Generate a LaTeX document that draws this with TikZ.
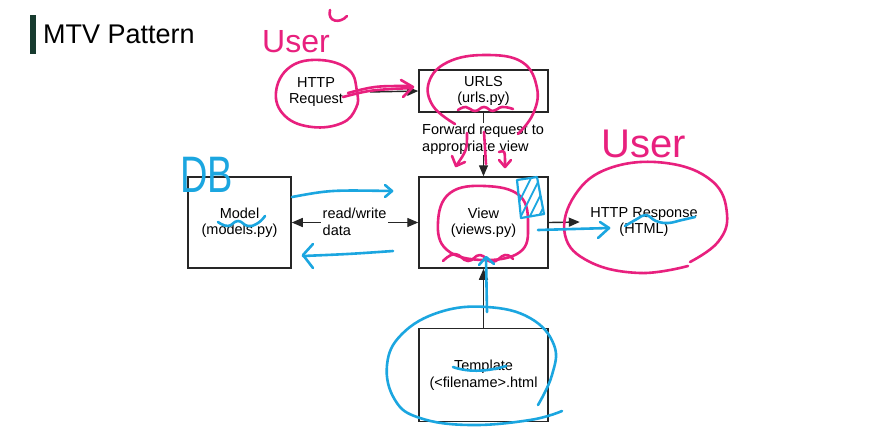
\documentclass[tikz,border=0pt]{standalone}
\usepackage{fontspec}
\setmainfont{Liberation Sans}
\usetikzlibrary{arrows.meta}
\definecolor{pk}{HTML}{E8207E}
\definecolor{bl}{HTML}{1BA6E0}
\definecolor{titlebar}{HTML}{173B2F}
\newcommand\lblfont{\fontsize{14.5}{16.5}\selectfont}
\tikzset{
  box/.style={draw=black!85, line width=1.5pt, align=center, font=\lblfont, inner sep=0pt},
  plain/.style={align=center, font=\lblfont, inner sep=0pt},
  arr/.style={draw=black!85, line width=1.4pt, -{Triangle[length=11pt,width=9pt]}},
  dblarr/.style={draw=black!85, line width=1.4pt, {Triangle[length=11pt,width=9pt]}-{Triangle[length=11pt,width=9pt]}},
  pen/.style={line width=2.6pt, line cap=round, line join=round},
  pkpen/.style={pen, draw=pk},
  blpen/.style={pen, draw=bl},
  hand/.style={inner sep=0pt}
}
\begin{document}
\begin{tikzpicture}[x=1pt,y=-1pt]
\useasboundingbox (0,0) rectangle (888,440);
\fill[white] (0,0) rectangle (888,440);
% title
\fill[titlebar] (30,15) rectangle (36,54);
\node[anchor=base west, inner sep=0pt, font=\fontsize{27}{32}\selectfont] (title) at (43,43) {MTV Pattern};
% diagram nodes
\node[plain, minimum width=108pt] (req) at (316,92) {HTTP\\Request};
\node[box, minimum width=129pt, minimum height=42pt] (urls) at (483.5,91) {URLS\\(urls.py)};
\node[box, minimum width=129pt, minimum height=91pt] (view) at (483.5,222.5) {View\\(views.py)};
\node[box, minimum width=103pt, minimum height=91pt] (model) at (239.5,222.5) {Model\\(models.py)};
\node[box, minimum width=129pt, minimum height=93pt] (tmpl) at (483.5,375) {Template\\(<filename>.html};
\node[plain, minimum width=128pt] (resp) at (644,222) {HTTP Response\\(HTML)};
% connectors
\draw[arr] (req.east) -- (urls.west);
\draw[arr] (urls.south) -- (view.north);
\draw[dblarr] (model.east) -- (view.west);
\draw[arr] (view.east) -- (resp.west);
\draw[arr] (tmpl.north) -- (view.south);
\node[anchor=west, fill=white, align=left, font=\lblfont, inner sep=1.5pt] (rw) at (321,222) {read/write\\data};
\node[anchor=west, fill=white, align=left, font=\lblfont, inner sep=1pt] (fwd) at (421,139) {Forward request to\\appropriate view};
% ---------- pink annotations ----------
\node[hand, text=pk, font=\fontsize{32}{32}\selectfont, anchor=base west] (user1) at (262,52) {User};
\draw[pkpen] (330,10) .. controls (327,22) and (340,24) .. (347,16);
\node[hand, text=pk, font=\fontsize{40}{40}\selectfont, anchor=base west] (user2) at (601,157) {User};
% circle around HTTP Request
\draw[pkpen] plot[smooth cycle, tension=0.7] coordinates {(357,92) (349,70) (320,60) (290,67) (276,92) (285,116) (312,127) (342,123) (356,108)};
% pink arrow to URLS
\draw[pkpen] (343,97) .. controls (370,90) .. (412,88);
\draw[pkpen] (348,93) .. controls (375,86) .. (410,86);
\draw[pkpen] (401,80) -- (413,87) -- (403,97);
% ellipse around URLS
\draw[pkpen] plot[smooth, tension=0.7] coordinates {(455,124) (433,106) (429,82) (448,62) (485,55) (522,62) (537,88) (533,114) (518,134)};
\draw[pkpen] plot[smooth, tension=0.8] coordinates {(458,110) (466,107) (475,111) (484,107) (493,111) (502,107) (513,109)};
% small arrows below URLS
\draw[pkpen] (467,133) .. controls (467,150) .. (456,166);
\draw[pkpen] (452,156) -- (456,166) -- (465,162);
\draw[pkpen] (484,132) -- (486,164);
\draw[pkpen] (499,152) .. controls (505,150) .. (505,166);
\draw[pkpen] (499,160) -- (505,167) -- (511,160);
% circle around View
\draw[pkpen] plot[smooth cycle, tension=0.7] coordinates {(528,226) (520,196) (485,186) (450,193) (438,222) (447,250) (483,260) (520,252)};
\draw[pkpen] plot[smooth, tension=0.8] coordinates {(443,261) (455,254) (468,261) (480,255) (492,262) (505,255) (513,259)};
% ellipse around HTTP Response
\draw[pkpen] plot[smooth, tension=0.7] coordinates {(690,262) (718,242) (727,214) (712,181) (666,163) (610,168) (575,195) (565,235) (590,262) (640,273) (688,266)};
% ---------- blue annotations ----------
\node[hand, text=bl, font=\fontsize{38}{38}\selectfont, anchor=base west] (db) at (180,192) {\scalebox{1}[1.35]{DB}};
\draw[blpen] plot[smooth, tension=0.8] coordinates {(218,222) (228,226) (238,221) (248,226) (258,223) (265,216)};
% arrows model <-> view
\draw[blpen] (292,197) .. controls (330,190) .. (392,191);
\draw[blpen] (385,185) -- (392,191) -- (385,197);
\draw[blpen] (393,251) .. controls (350,254) .. (303,256);
\draw[blpen] (313,244) -- (303,255) -- (313,268);
% hatched box in View
\begin{scope}
\clip (517,180) -- (537,177) -- (544,214) -- (521,218) -- cycle;
\foreach \k in {0,9,...,72} {\draw[bl, line width=1.8pt] (505+\k,230) -- (535+\k,170);}
\end{scope}
\draw[blpen, line width=2.2pt] (517,180) -- (537,177) -- (544,214) -- (521,218) -- cycle;
% arrow to response
\draw[blpen] (538,230) -- (609,228);
\draw[blpen] (600,222) -- (609,228) -- (598,238);
\draw[blpen] plot[smooth, tension=0.7] coordinates {(625,226) (637,219) (646,215) (656,221) (668,223) (682,220) (695,217)};
% arrow template -> view
\draw[blpen] (487,312) -- (486,258);
\draw[blpen] (479,265) -- (486,257) -- (494,264);
% ellipse around template
\draw[blpen] plot[smooth, tension=0.7] coordinates {(538,405) (552,375) (554,345) (530,318) (487,307) (440,312) (402,334) (387,365) (395,400) (420,418) (470,425) (530,420) (562,411)};
\draw[blpen] (453,367) .. controls (470,373) and (490,371) .. (506,366);
\end{tikzpicture}
\end{document}
